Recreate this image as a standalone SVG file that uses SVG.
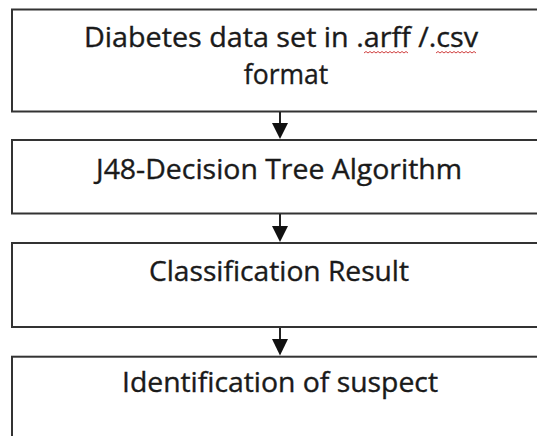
<svg xmlns="http://www.w3.org/2000/svg" width="537" height="436" viewBox="0 0 537 436">
<style>
.box{fill:#fff;stroke:#333;stroke-width:2}
.t{font-family:"Open Sans","Liberation Sans",sans-serif;font-size:26.5px;fill:#1a1a1a;stroke:#1a1a1a;stroke-width:0.35;text-anchor:middle}
.c{stroke:#222;stroke-width:2;fill:none}
.h{fill:#111}
.w{fill:none;stroke:#d04040;stroke-width:1}
</style>
<rect width="537" height="436" fill="#fff"/>
<g id="n1">
<rect class="box" x="12" y="9.5" width="540" height="102"/>
<text class="t" x="281" y="47" textLength="394" lengthAdjust="spacingAndGlyphs">Diabetes data set in .arff /.csv</text>
<text class="t" x="286" y="84">format</text>
<path class="w" d="M364 53 l2 -1.5 l2 1.5 l2 -1.5 l2 1.5 l2 -1.5 l2 1.5 l2 -1.5 l2 1.5 l2 -1.5 l2 1.5 l2 -1.5 l2 1.5 l2 -1.5 l2 1.5 l2 -1.5 l2 1.5 l2 -1.5 l2 1.5 l2 -1.5 l2 1.5 l2 -1.5 l2 1.5"/>
<path class="w" d="M436 53 l2 -1.5 l2 1.5 l2 -1.5 l2 1.5 l2 -1.5 l2 1.5 l2 -1.5 l2 1.5 l2 -1.5 l2 1.5 l2 -1.5 l2 1.5 l2 -1.5 l2 1.5 l2 -1.5 l2 1.5 l2 -1.5 l2 1.5 l2 -1.5 l2 1.5"/>
</g>
<g id="n2">
<rect class="box" x="12" y="140" width="540" height="73.5"/>
<text class="t" x="279" y="179" textLength="366" lengthAdjust="spacingAndGlyphs">J48-Decision Tree Algorithm</text>
</g>
<g id="n3">
<rect class="box" x="12" y="243" width="540" height="84"/>
<text class="t" x="279" y="281" textLength="260" lengthAdjust="spacingAndGlyphs">Classification Result</text>
</g>
<g id="n4">
<rect class="box" x="12" y="356.7" width="540" height="100"/>
<text class="t" x="280" y="392" textLength="316" lengthAdjust="spacingAndGlyphs">Identification of suspect</text>
</g>
<g id="connectors">
<line class="c" x1="280" y1="112" x2="280" y2="124"/>
<polygon class="h" points="272,123 288,123 280,139"/>
<line class="c" x1="280" y1="214" x2="280" y2="227"/>
<polygon class="h" points="272,226 288,226 280,242"/>
<line class="c" x1="280" y1="328" x2="280" y2="340"/>
<polygon class="h" points="272,339 288,339 280,355.5"/>
</g>
</svg>
